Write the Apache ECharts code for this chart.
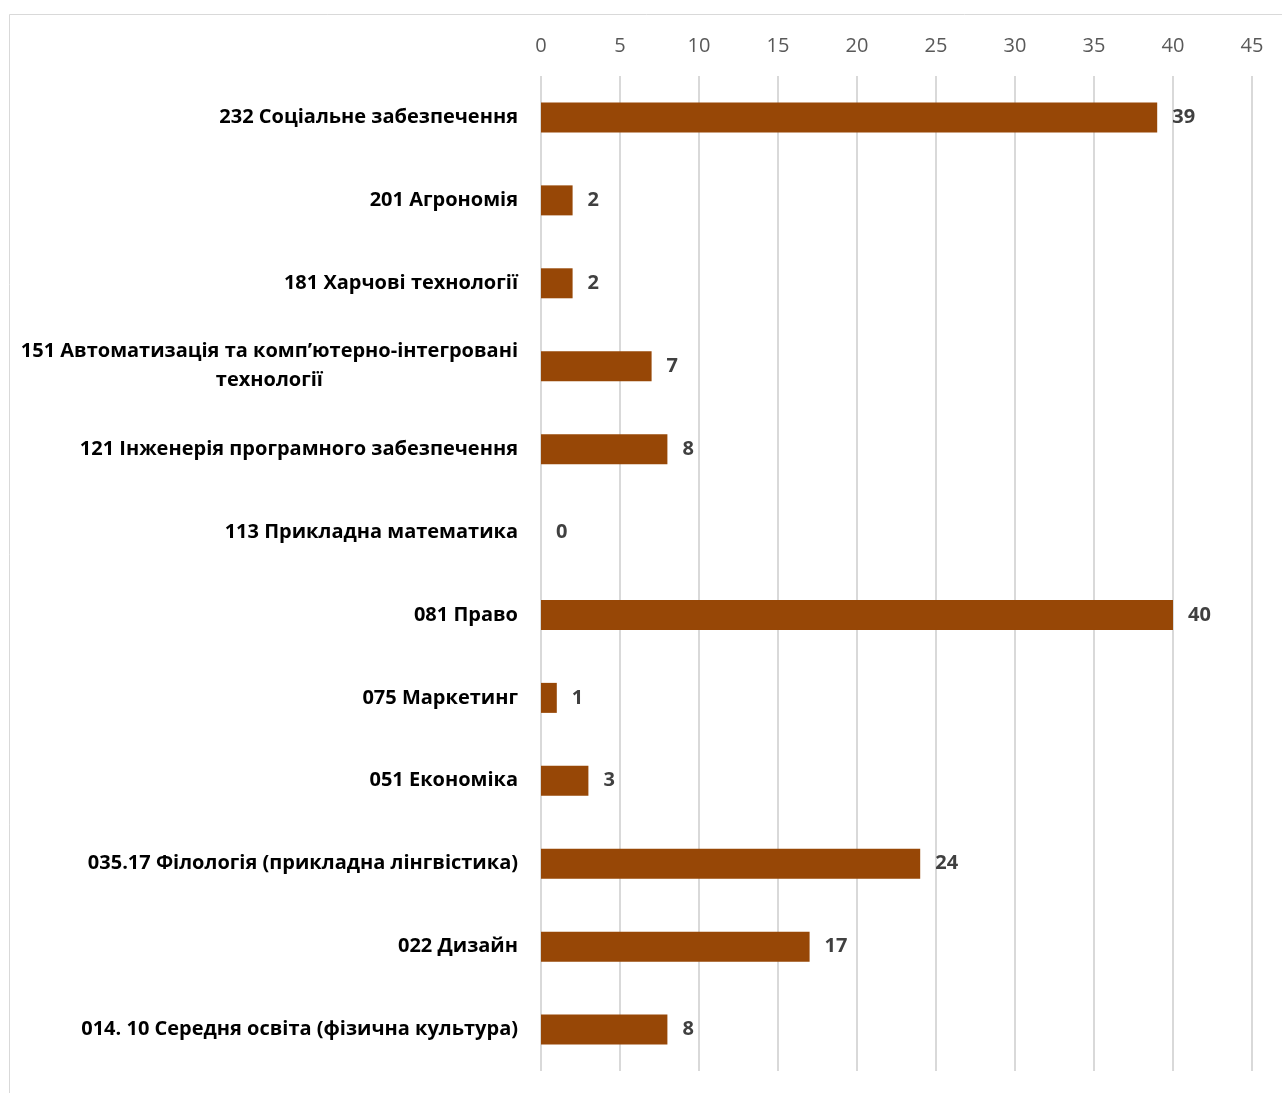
<!DOCTYPE html>
<html><head><meta charset="utf-8">
<script src="https://cdn.jsdelivr.net/npm/echarts@6/dist/echarts.min.js"></script>
<style>html,body{margin:0;padding:0;background:#fff}#c{width:1282px;height:1093px}</style>
</head><body><div id="c"></div>
<script>
const categories = [
  "232 Соціальне забезпечення",
  "201 Агрономія",
  "181 Харчові технології",
  "151 Автоматизація та комп’ютерно-інтегровані\nтехнології",
  "121 Інженерія програмного забезпечення",
  "113 Прикладна математика",
  "081 Право",
  "075 Маркетинг",
  "051 Економіка",
  "035.17 Філологія (прикладна лінгвістика)",
  "022 Дизайн",
  "014. 10 Середня освіта (фізична культура)"
];
const values = [39, 2, 2, 7, 8, 0, 40, 1, 3, 24, 17, 8];
const axisMin = 0, axisMax = 45, axisStep = 5;

const chart = echarts.init(document.getElementById('c'), null, {renderer: 'canvas'});
const FONT = '"Open Sans", "Noto Sans", sans-serif';
chart.setOption({
  animation: false,
  backgroundColor: '#fff',
  graphic: [{
    type: 'rect', shape: {x: 9.5, y: 14.5, width: 1300, height: 1100},
    style: {fill: 'none', stroke: '#d9d9d9', lineWidth: 1}, silent: true, z: -10
  }],
  grid: {left: 541, right: 30, top: 76, bottom: 22, containLabel: false},
  xAxis: {
    type: 'value', position: 'top', min: axisMin, max: axisMax, interval: axisStep,
    axisLine: {show: false}, axisTick: {show: false},
    axisLabel: {color: '#595959', fontSize: 20, fontFamily: FONT, margin: 20},
    splitLine: {show: true, lineStyle: {color: '#d9d9d9', width: 2}}
  },
  yAxis: {
    type: 'category', data: categories, inverse: true,
    axisLine: {show: false}, axisTick: {show: false},
    axisLabel: {
      margin: 23, fontSize: 20, fontWeight: 'bold', color: '#000', fontFamily: FONT,
      lineHeight: 29,
      formatter: function (v) {
        return v.split('\n').map(s => '{c|' + s + '}').join('\n');
      },
      rich: {c: {align: 'center', fontSize: 20, fontWeight: 'bold', color: '#000', fontFamily: FONT, lineHeight: 29}}
    }
  },
  series: [{
    type: 'bar', data: values, barWidth: 30,
    itemStyle: {color: '#974706'},
    label: {show: true, position: 'right', distance: 15, color: '#404040',
            fontSize: 20, fontWeight: 'bold', fontFamily: FONT}
  }]
});
</script></body></html>
